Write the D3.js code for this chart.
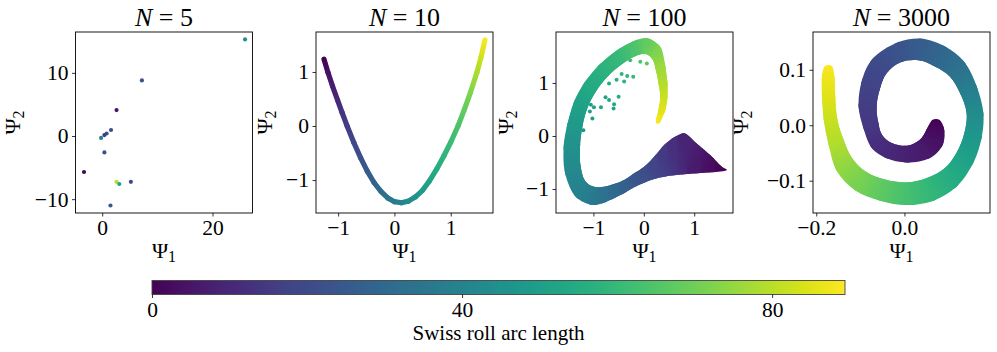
<!DOCTYPE html>
<html><head><meta charset="utf-8">
<script src="https://cdn.jsdelivr.net/npm/d3@7"></script>
<style>
body{margin:0;background:#fff;}
svg{display:block;}
text{font-family:"Liberation Serif","Times New Roman",serif;fill:#000;}
</style>
</head><body><svg id="c" width="997" height="352"></svg>
<script>
// ---------------- data ----------------
const panelTitles = ["5", "10", "100", "3000"];
const colorMax = 89.4;
const colorbarTicks = [0, 40, 80];
const colorbarLabel = "Swiss roll arc length";

const xDomains = [[-4.84, 27.25], [-1.393, 1.751], [-1.742, 1.769], [-0.2074, 0.1941]];
const yDomains = [[-12.19, 16.47], [-1.61, 1.74], [-1.453, 1.962], [-0.1582, 0.1681]];
const xTicks = [[0, 20], [-1, 0, 1], [-1, 0, 1], [-0.2, 0.0]];
const yTicks = [[-10, 0, 10], [-1, 0, 1], [-1, 0, 1], [-0.1, 0.0, 0.1]];

// N=5 : [Ψ1, Ψ2, arc length]
const n5Points = [
  [25.9, 15.3, 45], [7.2, 8.8, 22], [2.6, 4.1, 5], [1.6, 0.95, 20], [0.8, 0.4, 22],
  [0.4, 0.15, 14], [-0.2, -0.3, 40], [0.4, -2.6, 22], [-3.3, -5.7, 1], [2.6, -7.25, 80],
  [3.1, -7.6, 52], [5.2, -7.25, 20], [1.5, -11.0, 25]
];

// N=10 : curve samples [Ψ1, Ψ2, arc length]
const n10Curve = [
  [-1.251, 1.235, 0], [-1.18, 0.99, 4], [-1.10, 0.74, 7], [-1.01, 0.48, 10], [-0.93, 0.25, 13],
  [-0.84, 0.0, 16], [-0.72, -0.31, 19], [-0.60, -0.59, 22], [-0.48, -0.84, 25], [-0.36, -1.05, 28],
  [-0.24, -1.21, 31], [-0.12, -1.33, 34], [0.0, -1.40, 37], [0.125, -1.42, 40], [0.25, -1.39, 43],
  [0.375, -1.31, 46], [0.5, -1.19, 49], [0.62, -1.02, 52], [0.75, -0.80, 55], [0.88, -0.55, 58],
  [1.0, -0.30, 61], [1.13, 0.0, 64], [1.24, 0.30, 68], [1.35, 0.62, 72], [1.465, 0.99, 78],
  [1.54, 1.28, 83], [1.607, 1.59, 89]
];

// N=100 : band cross-sections [Ψ1 edgeA, Ψ2 edgeA, Ψ1 edgeB, Ψ2 edgeB, arc length]
const n100Band = [
  [1.562, -0.591, 1.648, -0.642, 0], [1.330, -0.371, 1.330, -0.686, 3], [1.065, -0.157, 1.065, -0.704, 6],
  [0.800, 0.050, 0.800, -0.723, 9], [0.602, -0.025, 0.602, -0.742, 12], [0.403, -0.170, 0.403, -0.767, 15],
  [0.205, -0.390, 0.205, -0.811, 18], [0.006, -0.579, 0.006, -0.881, 21], [-0.193, -0.704, -0.193, -0.969, 24],
  [-0.391, -0.830, -0.391, -1.082, 27], [-0.590, -0.906, -0.590, -1.176, 30], [-0.789, -0.956, -0.789, -1.258, 33],
  [-0.987, -0.956, -1.020, -1.302, 36], [-1.153, -0.862, -1.351, -1.145, 39], [-1.252, -0.579, -1.56, -0.704, 42],
  [-1.265, -0.201, -1.59, -0.201, 45], [-1.218, 0.176, -1.52, 0.208, 48], [-1.120, 0.522, -1.384, 0.648, 51],
  [-0.953, 0.836, -1.186, 0.994, 54], [-0.722, 1.119, -0.888, 1.340, 57], [-0.457, 1.340, -0.524, 1.623, 60],
  [-0.193, 1.497, -0.193, 1.792, 64], [0.039, 1.547, 0.072, 1.843, 68], [0.171, 1.447, 0.324, 1.686, 72],
  [0.237, 1.245, 0.423, 1.340, 76], [0.290, 0.994, 0.469, 0.994, 79], [0.324, 0.742, 0.469, 0.742, 82],
  [0.290, 0.491, 0.429, 0.491, 85], [0.251, 0.333, 0.357, 0.333, 87], [0.245, 0.239, 0.311, 0.239, 89]
];
// N=100 : loose points inside the loop [Ψ1, Ψ2, arc length]
const n100Scatter = [
  [-1.28, 0.06, 47], [-1.20, 0.11, 47], [-1.07, 0.46, 50], [-0.99, 0.54, 51], [-0.85, 0.54, 52],
  [-1.02, 0.33, 49], [-0.76, 0.73, 53], [-0.69, 0.68, 53], [-0.60, 0.52, 53], [-0.59, 0.60, 53],
  [-0.50, 0.74, 55], [-0.54, 1.06, 57], [-0.44, 1.17, 58], [-0.33, 1.13, 59], [-0.21, 1.12, 60],
  [-0.27, 1.43, 62], [-0.07, 1.40, 64], [0.06, 1.37, 66], [-0.69, 0.99, 55], [-0.39, 1.03, 58],
  [-1.05, 0.59, 50]
];

// N=3000 : spiral band cross-sections [Ψ1 inner, Ψ2 inner, Ψ1 outer, Ψ2 outer, arc length]
const n3000Band = [
  [0.064, 0.010, 0.079, 0.010, 0], [0.052, -0.005, 0.090, -0.007, 2], [0.039, -0.023, 0.087, -0.035, 4],
  [0.024, -0.032, 0.058, -0.059, 6], [0.005, -0.037, 0.005, -0.067, 8], [-0.029, -0.032, -0.042, -0.059, 10],
  [-0.051, -0.017, -0.074, -0.041, 12], [-0.059, 0.004, -0.093, -0.005, 14], [-0.063, 0.034, -0.104, 0.034, 16],
  [-0.055, 0.067, -0.097, 0.079, 18], [-0.040, 0.094, -0.074, 0.118, 20], [-0.010, 0.113, -0.016, 0.149, 23],
  [0.032, 0.117, 0.039, 0.156, 26], [0.069, 0.106, 0.092, 0.142, 29], [0.103, 0.088, 0.135, 0.115, 33],
  [0.126, 0.058, 0.164, 0.070, 38], [0.141, 0.022, 0.179, 0.022, 43], [0.136, -0.014, 0.175, -0.023, 47],
  [0.118, -0.050, 0.156, -0.068, 51], [0.092, -0.077, 0.118, -0.111, 55], [0.051, -0.095, 0.066, -0.136, 59],
  [0.005, -0.103, 0.005, -0.144, 63], [-0.044, -0.098, -0.055, -0.136, 67], [-0.089, -0.083, -0.112, -0.117, 71],
  [-0.119, -0.059, -0.153, -0.083, 75], [-0.138, -0.026, -0.172, -0.035, 79], [-0.152, 0.010, -0.183, 0.010, 82],
  [-0.157, 0.052, -0.187, 0.052, 85], [-0.159, 0.088, -0.187, 0.088, 87], [-0.165, 0.107, -0.180, 0.107, 89]
];

// ---------------- drawing ----------------
const FONT = "'Liberation Serif','Times New Roman',serif";
const svg = d3.select("#c");
const defs = svg.append("defs");
const color = d3.scaleSequential(d3.interpolateViridis).domain([0, colorMax]);

const panelLeft = [75.5, 316, 556, 813];
const panelTop = 32, panelW = 177, panelH = 181;
const yLabelOffset = [56, 44, 43, 65];
let gradId = 0;

function segGradient(p0, p1, c0, c1) {
  const id = "gr" + (gradId++);
  const gr = defs.append("linearGradient").attr("id", id)
    .attr("gradientUnits", "userSpaceOnUse")
    .attr("x1", p0[0]).attr("y1", p0[1]).attr("x2", p1[0]).attr("y2", p1[1]);
  gr.append("stop").attr("offset", 0).attr("stop-color", c0);
  gr.append("stop").attr("offset", 1).attr("stop-color", c1);
  return "url(#" + id + ")";
}

function drawBand(plot, rows, x, y, key) {
  // smooth outline through both edges, used to clip the coloured strips
  const ring = rows.map(r => [x(r[0]), y(r[1])])
    .concat(rows.slice().reverse().map(r => [x(r[2]), y(r[3])]));
  const outline = d3.line().curve(d3.curveCatmullRomClosed.alpha(0.5))(ring);
  defs.append("clipPath").attr("id", "band" + key).append("path").attr("d", outline);
  const bg = plot.append("g").attr("clip-path", `url(#band${key})`);
  for (let i = 0; i < rows.length - 1; i++) {
    const r0 = rows[i], r1 = rows[i + 1];
    const a0 = [x(r0[0]), y(r0[1])], b0 = [x(r0[2]), y(r0[3])];
    const a1 = [x(r1[0]), y(r1[1])], b1 = [x(r1[2]), y(r1[3])];
    const m0 = [(a0[0] + b0[0]) / 2, (a0[1] + b0[1]) / 2];
    const m1 = [(a1[0] + b1[0]) / 2, (a1[1] + b1[1]) / 2];
    const fill = segGradient(m0, m1, color(r0[4]), color(r1[4]));
    bg.append("path")
      .attr("d", `M${a0}L${a1}L${b1}L${b0}Z`)
      .attr("fill", fill).attr("stroke", fill)
      .attr("stroke-width", 6).attr("stroke-linejoin", "round");
  }
}

function drawCurve(plot, pts, x, y, w) {
  for (let i = 0; i < pts.length - 1; i++) {
    const p0 = [x(pts[i][0]), y(pts[i][1])], p1 = [x(pts[i + 1][0]), y(pts[i + 1][1])];
    plot.append("line")
      .attr("x1", p0[0]).attr("y1", p0[1]).attr("x2", p1[0]).attr("y2", p1[1])
      .attr("stroke", segGradient(p0, p1, color(pts[i][2]), color(pts[i + 1][2])))
      .attr("stroke-width", w).attr("stroke-linecap", "round");
  }
}

function drawDots(plot, pts, x, y, r) {
  plot.selectAll(null).data(pts).join("circle")
    .attr("cx", d => x(d[0])).attr("cy", d => y(d[1])).attr("r", r)
    .attr("fill", d => color(d[2]));
}

for (let i = 0; i < 4; i++) {
  const g = svg.append("g").attr("transform", `translate(${panelLeft[i]},${panelTop})`);
  const x = d3.scaleLinear().domain(xDomains[i]).range([0, panelW]);
  const y = d3.scaleLinear().domain(yDomains[i]).range([panelH, 0]);

  defs.append("clipPath").attr("id", "clip" + i)
    .append("rect").attr("width", panelW).attr("height", panelH);
  const plot = g.append("g").attr("clip-path", `url(#clip${i})`);

  if (i === 0) drawDots(plot, n5Points, x, y, 2.1);
  if (i === 1) drawCurve(plot, n10Curve, x, y, 5.2);
  if (i === 2) { drawBand(plot, n100Band, x, y, i); drawDots(plot, n100Scatter, x, y, 2.0); }
  if (i === 3) drawBand(plot, n3000Band, x, y, i);

  g.append("rect").attr("width", panelW).attr("height", panelH)
    .attr("fill", "none").attr("stroke", "#000").attr("stroke-width", 0.9);

  const fmt = i === 3 ? d3.format(".1f") : d3.format("d");
  const xa = g.append("g").attr("transform", `translate(0,${panelH})`)
    .call(d3.axisBottom(x).tickValues(xTicks[i]).tickFormat(fmt).tickSize(3.5).tickPadding(3.5));
  const ya = g.append("g")
    .call(d3.axisLeft(y).tickValues(yTicks[i]).tickFormat(fmt).tickSize(3.5).tickPadding(3.5));
  [xa, ya].forEach(a => {
    a.select(".domain").remove();
    a.attr("font-size", 21.5).attr("font-family", FONT);
    a.selectAll("line").attr("stroke", "#000").attr("stroke-width", 0.8);
    a.selectAll("text").attr("fill", "#000");
  });

  // title
  const t = g.append("text").attr("x", panelW / 2).attr("y", -6)
    .attr("text-anchor", "middle").attr("font-size", 26);
  t.append("tspan").attr("font-style", "italic").text("N");
  t.append("tspan").text(" = " + panelTitles[i]);

  // x label
  const xl = g.append("text").attr("x", panelW / 2).attr("y", 258 - panelTop)
    .attr("text-anchor", "middle").attr("font-size", 22).text("Ψ");
  xl.append("tspan").attr("font-size", 16).attr("dy", 4).text("1");

  // y label
  const yl = g.append("text")
    .attr("transform", `translate(${-yLabelOffset[i]},${panelH / 2}) rotate(-90)`)
    .attr("text-anchor", "middle").attr("font-size", 22).text("Ψ");
  yl.append("tspan").attr("font-size", 16).attr("dy", 4).text("2");
}

// ---------------- colorbar ----------------
const cbX0 = 152, cbX1 = 845, cbY = 280.5, cbH = 14;
const cbScale = d3.scaleLinear().domain([0, colorMax]).range([cbX0, cbX1]);
const cbGrad = defs.append("linearGradient").attr("id", "cbgrad")
  .attr("x1", 0).attr("x2", 1).attr("y1", 0).attr("y2", 0);
d3.range(0, 1.0001, 0.02).forEach(s => {
  cbGrad.append("stop").attr("offset", s).attr("stop-color", d3.interpolateViridis(s));
});
svg.append("rect").attr("x", cbX0).attr("y", cbY).attr("width", cbX1 - cbX0).attr("height", cbH)
  .attr("fill", "url(#cbgrad)").attr("stroke", "#444").attr("stroke-width", 0.9);
const cba = svg.append("g").attr("transform", `translate(0,${cbY + cbH})`)
  .call(d3.axisBottom(cbScale).tickValues(colorbarTicks).tickFormat(d3.format("d")).tickSize(3.5).tickPadding(3.5));
cba.select(".domain").remove();
cba.attr("font-size", 21.5).attr("font-family", FONT);
cba.selectAll("line").attr("stroke", "#000").attr("stroke-width", 0.8);
cba.selectAll("text").attr("fill", "#000");
svg.append("text").attr("x", (cbX0 + cbX1) / 2).attr("y", 340)
  .attr("text-anchor", "middle").attr("font-size", 21).text(colorbarLabel);
</script></body></html>
